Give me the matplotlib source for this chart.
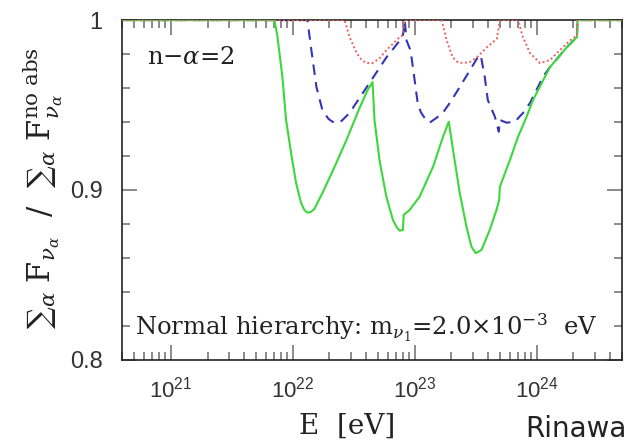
import numpy as np
import matplotlib
matplotlib.use("Agg")
import matplotlib.pyplot as plt
from matplotlib.ticker import LogLocator, MultipleLocator, FuncFormatter, NullFormatter

plt.rcParams['mathtext.fontset'] = 'custom'
plt.rcParams['mathtext.rm'] = 'DejaVu Serif'
plt.rcParams['mathtext.it'] = 'DejaVu Serif:italic'
plt.rcParams['mathtext.bf'] = 'DejaVu Serif:bold'
plt.rcParams['mathtext.sf'] = 'Liberation Sans'
plt.rcParams['mathtext.fallback'] = 'stix'

# log10(E/eV) and flux ratio
green_logE = [20.60, 21.849, 21.873, 21.915, 21.945, 21.986, 22.027, 22.068, 22.095,
              22.122, 22.149, 22.177, 22.243, 22.342, 22.440, 22.547, 22.613, 22.654,
              22.670, 22.711, 22.767, 22.821, 22.851, 22.876, 22.903, 22.909, 22.958,
              23.040, 23.150, 23.232, 23.279, 23.314, 23.369, 23.424, 23.465, 23.500,
              23.547, 23.615, 23.670, 23.692, 23.698, 23.780, 23.846, 23.917, 23.969,
              24.109, 24.248, 24.330, 24.334, 24.70]
green_val = [1.0, 1.0, 0.991, 0.9665, 0.9412, 0.9218, 0.9041, 0.8924, 0.8882,
             0.8866, 0.8871, 0.8888, 0.8982, 0.9135, 0.9294, 0.9482, 0.9588, 0.9635,
             0.9412, 0.9176, 0.8961, 0.8824, 0.8782, 0.8761, 0.8765, 0.8853, 0.8882,
             0.8961, 0.9137, 0.9314, 0.9402, 0.9235, 0.8982, 0.8784, 0.8666, 0.8628,
             0.8647, 0.8765, 0.8882, 0.8941, 0.9019, 0.9176, 0.9312, 0.9431, 0.9529,
             0.9724, 0.9841, 0.990, 1.0, 1.0]

blue_logE = [20.60, 22.120, 22.153, 22.194, 22.243, 22.293, 22.342, 22.399, 22.465,
             22.629, 22.769, 22.900, 22.909, 22.917, 22.933, 22.966, 22.999, 23.024,
             23.049, 23.081, 23.122, 23.177, 23.229, 23.287, 23.369, 23.517, 23.541,
             23.574, 23.599, 23.657, 23.689, 23.698, 23.753, 23.821, 23.887, 23.945,
             23.969, 24.051, 24.109, 24.248, 24.330, 24.334, 24.70]
blue_val = [1.0, 1.0, 0.982, 0.9606, 0.947, 0.9418, 0.9394, 0.9406, 0.9453,
            0.963, 0.9782, 0.990, 0.9941, 1.0, 0.988, 0.982, 0.9647, 0.9512,
            0.9459, 0.9424, 0.9396, 0.9424, 0.9453, 0.9512, 0.9606, 0.9782, 0.9794,
            0.9665, 0.9529, 0.9431, 0.9343, 0.9412, 0.9396, 0.9402, 0.9453, 0.9512,
            0.9547, 0.9665, 0.9724, 0.9841, 0.990, 1.0, 1.0]

red_logE = [20.60, 22.425, 22.466, 22.524, 22.564, 22.605, 22.654, 22.712, 22.769,
            22.876, 22.900, 22.917, 23.221, 23.262, 23.311, 23.352, 23.394, 23.451,
            23.509, 23.591, 23.673, 23.698, 23.846, 23.887, 23.945, 24.027, 24.109,
            24.191, 24.273, 24.330, 24.334, 24.70]
red_val = [1.0, 1.0, 0.990, 0.9806, 0.9765, 0.9747, 0.9747, 0.9776, 0.9824,
           0.990, 0.991, 1.0, 1.0, 0.988, 0.978, 0.9753, 0.9747, 0.9753,
           0.978, 0.984, 0.989, 1.0, 1.0, 0.990, 0.9806, 0.9747, 0.9765,
           0.9824, 0.988, 0.991, 1.0, 1.0]

x_min, x_max = 4e20, 5e24
y_min, y_max = 0.8, 1.0

fig = plt.figure(figsize=(6.27, 4.47), dpi=100)
ax = fig.add_axes([0.195, 0.195, 0.797, 0.760])

ax.plot(10**np.array(blue_logE), blue_val, color='#3535b5', lw=1.5,
        dashes=(5, 3.5), zorder=2)
ax.plot(10**np.array(green_logE), green_val, color='#3ad83a', lw=1.5, zorder=3)
ax.plot(10**np.array(red_logE), red_val, color='#ee6060', lw=1.4,
        dashes=(1, 1.3), zorder=4)

ax.set_xscale('log')
ax.set_xlim(x_min, x_max)
ax.set_ylim(y_min, y_max)

ax.xaxis.set_major_locator(LogLocator(base=10, numticks=10))
ax.xaxis.set_minor_locator(LogLocator(base=10, subs=np.arange(2, 10), numticks=20))
ax.xaxis.set_major_formatter(FuncFormatter(
    lambda v, p: r'$\mathsf{10}^{\mathsf{%d}}$' % int(round(np.log10(v)))))
ax.xaxis.set_minor_formatter(NullFormatter())
ax.yaxis.set_major_locator(MultipleLocator(0.1))
ax.yaxis.set_minor_locator(MultipleLocator(0.02))
ax.yaxis.set_major_formatter(FuncFormatter(lambda v, p: '%g' % round(v, 2)))

ax.tick_params(which='both', direction='in', top=True, right=True,
               color='#777777', width=1.2)
ax.tick_params(which='major', length=11)
ax.tick_params(which='minor', length=6)
ax.tick_params(axis='x', which='major', labelsize=16, pad=11, labelcolor='#333333')
ax.tick_params(axis='y', which='major', labelsize=17, pad=14, labelcolor='#333333')
for t in ax.get_yticklabels():
    t.set_family('Liberation Sans')
for s in ax.spines.values():
    s.set_linewidth(1.2)
    s.set_color('#222222')

ax.set_xlabel('E  [eV]', family='DejaVu Serif', fontsize=20, color='#222222')
ax.xaxis.set_label_coords(0.45, -0.155)
ax.set_ylabel(r'${\sum}_{\alpha}\ \mathrm{F}_{\nu_\alpha}\ \ /\ \ {\sum}_{\alpha}\ \mathrm{F}^{\rm no\ abs}_{\nu_\alpha}$',
              fontsize=22, color='#222222')
ax.yaxis.label.set_va('center')
ax.yaxis.set_label_coords(-0.16, 0.505)

ax.text(0.05, 0.89, r'n$-\alpha$=2', transform=ax.transAxes, fontsize=17.5,
        family='DejaVu Serif', va='center', ha='left', color='#222222')
ax.text(0.025, 0.095, r'Normal hierarchy: m$_{\nu_1}$=2.0$\times$10$^{-3}$  eV',
        transform=ax.transAxes, fontsize=17.5, family='DejaVu Serif',
        va='center', ha='left', color='#222222')

fig.text(1.0, 0.04, 'Rinawa', fontsize=20, family='DejaVu Sans',
         ha='right', va='center', color='#222222')

fig.savefig('out.png', dpi=100)
